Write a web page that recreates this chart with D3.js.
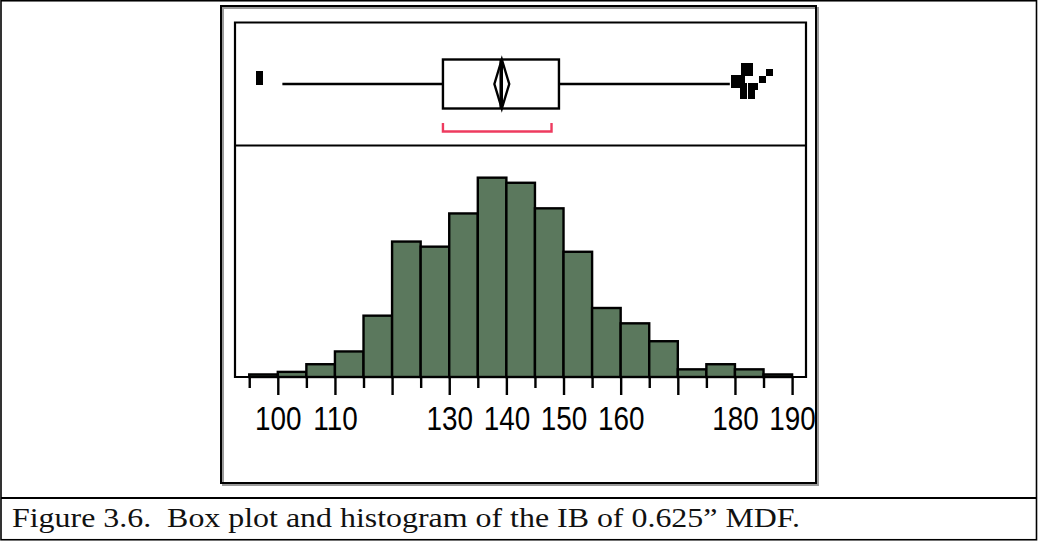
<!DOCTYPE html>
<html>
<head>
<meta charset="utf-8">
<script src="https://cdn.jsdelivr.net/npm/d3@7"></script>
<style>
  html, body { margin: 0; padding: 0; background: #fff; }
  svg { display: block; }
</style>
</head>
<body>
<script>
// Histogram bins (lower edge of each 5-unit bin) and their counts
const binStart = [95, 100, 105, 110, 115, 120, 125, 130, 135, 140, 145, 150, 155, 160, 165, 170, 175, 180, 185];
const counts   = [1, 2, 5, 10, 24, 53, 51, 64, 78, 76, 66, 49, 27, 21, 14, 3, 5, 3, 1];
const binWidth = 5;

// Axis ticks
const majorTicks = [100, 110, 120, 130, 140, 150, 160, 170, 180, 190];
const tickLabels = ["100", "110", "", "130", "140", "150", "160", "", "180", "190"];
const minorTicks = [95, 105, 115, 125, 135, 145, 155, 165, 175, 185];

// Box plot summary
const quartiles = [128.9, 139.0, 149.2];      // Q1, median, Q3
const whiskers = [100.8, 179.1];
const meanDiamond = [137.9, 139.2, 140.5];    // lower CI, mean, upper CI
const shortestHalf = [128.9, 147.9];

// Outlying observations and their stacking lane (in marker heights)
const outlierValues = [96.8, 96.8, 181.6, 182.6, 181.6, 182.6, 179.9, 181.1, 179.9, 181.1,
                       181.5, 182.9, 181.5, 182.9, 181.5, 182.9, 183.4, 184.8, 186.0];
const outlierLane   = [-1.3, -0.4, -2.5, -2.5, -1.7, -1.7, -0.8, -0.8, 0, 0,
                       0.3, 0.3, 0.9, 0.9, 1.6, 1.6, 0.3, -0.6, -1.7];

const caption = "Figure 3.6.  Box plot and histogram of the IB of 0.625\u201D MDF.";

const W = 1038, H = 541;
const svg = d3.select("body").append("svg").attr("width", W).attr("height", H);

// Page border and caption separator
svg.append("rect").attr("x", 1).attr("y", 0.75).attr("width", W - 2.5).attr("height", H - 2)
  .attr("fill", "none").attr("stroke", "#000").attr("stroke-width", 1.6);
svg.append("line").attr("x1", 1).attr("x2", W - 1.5).attr("y1", 498).attr("y2", 498)
  .attr("stroke", "#000").attr("stroke-width", 2);

// Figure frame with drop shadow
const frame = { x: 221, y: 6, w: 595, h: 477 };
svg.append("rect").attr("x", frame.x + 2).attr("y", frame.y + 2).attr("width", frame.w).attr("height", frame.h)
  .attr("fill", "none").attr("stroke", "#9a9a9a").attr("stroke-width", 2);
svg.append("rect").attr("x", frame.x).attr("y", frame.y).attr("width", frame.w).attr("height", frame.h)
  .attr("fill", "none").attr("stroke", "#000").attr("stroke-width", 2);

// Plot panels
const plot = { left: 235, right: 806, top: 22.5, divider: 145.5, base: 377 };
const x = d3.scaleLinear().domain([100, 190]).range([277.8, 792.1]);
const y = d3.scaleLinear().domain([0, 90]).range([plot.base, plot.top + 124.5]);

// Histogram bars
svg.append("g").selectAll("rect").data(binStart).join("rect")
  .attr("x", (d) => x(d))
  .attr("y", (d, i) => y(counts[i]))
  .attr("width", (d) => x(d + binWidth) - x(d))
  .attr("height", (d, i) => y(0) - y(counts[i]))
  .attr("fill", "#5b785d")
  .attr("stroke", "#000")
  .attr("stroke-width", 2.4);

// Panel frame: outline down to the axis line, plus the divider
svg.append("path")
  .attr("d", `M${plot.left},${plot.base}V${plot.top}H${plot.right}V${plot.base}H${plot.left}Z`)
  .attr("fill", "none").attr("stroke", "#000").attr("stroke-width", 2.2);
svg.append("line").attr("x1", plot.left).attr("x2", plot.right)
  .attr("y1", plot.divider).attr("y2", plot.divider)
  .attr("stroke", "#000").attr("stroke-width", 2.2);

// Axis: long major ticks, short minor ticks, condensed labels
const axisG = svg.append("g").attr("transform", `translate(0,${plot.base})`);
const majorAxis = d3.axisBottom(x).tickValues(majorTicks).tickSize(18)
  .tickFormat((d, i) => tickLabels[i]);
axisG.call(majorAxis)
  .attr("font-family", "'Liberation Sans', Arial, Helvetica, sans-serif")
  .attr("font-size", 34);
const minorG = svg.append("g").attr("transform", `translate(0,${plot.base})`)
  .call(d3.axisBottom(x).tickValues(minorTicks).tickSize(11).tickFormat(""));
[axisG, minorG].forEach((g) => {
  g.select(".domain").remove();
  g.selectAll(".tick line").attr("stroke", "#000").attr("stroke-width", 2.4);
});
axisG.selectAll(".tick text")
  .attr("y", 0).attr("dy", 0)
  .attr("transform", "translate(0,52.5) scale(0.82,1)")
  .attr("fill", "#000");

// Box plot
const cy = 84;
const boxTop = 59.5, boxBot = 108.5;
const bp = svg.append("g").attr("fill", "none").attr("stroke", "#000").attr("stroke-width", 2.4);
bp.append("line").attr("x1", x(whiskers[0])).attr("x2", x(quartiles[0])).attr("y1", cy).attr("y2", cy);
bp.append("line").attr("x1", x(quartiles[2])).attr("x2", x(whiskers[1])).attr("y1", cy).attr("y2", cy);
bp.append("rect").attr("x", x(quartiles[0])).attr("y", boxTop)
  .attr("width", x(quartiles[2]) - x(quartiles[0])).attr("height", boxBot - boxTop);
bp.append("line").attr("x1", x(quartiles[1])).attr("x2", x(quartiles[1])).attr("y1", boxTop).attr("y2", boxBot);
bp.append("path")
  .attr("d", `M${x(meanDiamond[0])},${cy}L${x(meanDiamond[1])},${boxTop}L${x(meanDiamond[2])},${cy}L${x(meanDiamond[1])},${boxBot}Z`);
bp.append("line").attr("x1", x(meanDiamond[1])).attr("x2", x(meanDiamond[1])).attr("y1", boxTop).attr("y2", boxBot);

// Shortest-half bracket
svg.append("path")
  .attr("d", `M${x(shortestHalf[0])},123V131.5H${x(shortestHalf[1])}V123`)
  .attr("fill", "none").attr("stroke", "#ee3b5f").attr("stroke-width", 2.4);

// Outlier markers
const ms = 7;
svg.append("g").selectAll("rect").data(outlierValues).join("rect")
  .attr("x", (d) => Math.round(x(d) - ms / 2))
  .attr("y", (d, i) => Math.round(cy + outlierLane[i] * ms - ms / 2))
  .attr("width", ms).attr("height", ms)
  .attr("fill", "#000");

// Caption
svg.append("text")
  .attr("x", 12).attr("y", 527)
  .attr("textLength", 788).attr("lengthAdjust", "spacingAndGlyphs")
  .style("white-space", "pre")
  .style("font-family", "'Liberation Serif', 'Times New Roman', serif")
  .style("font-size", "27px")
  .attr("fill", "#111")
  .text(caption);
</script>
</body>
</html>
